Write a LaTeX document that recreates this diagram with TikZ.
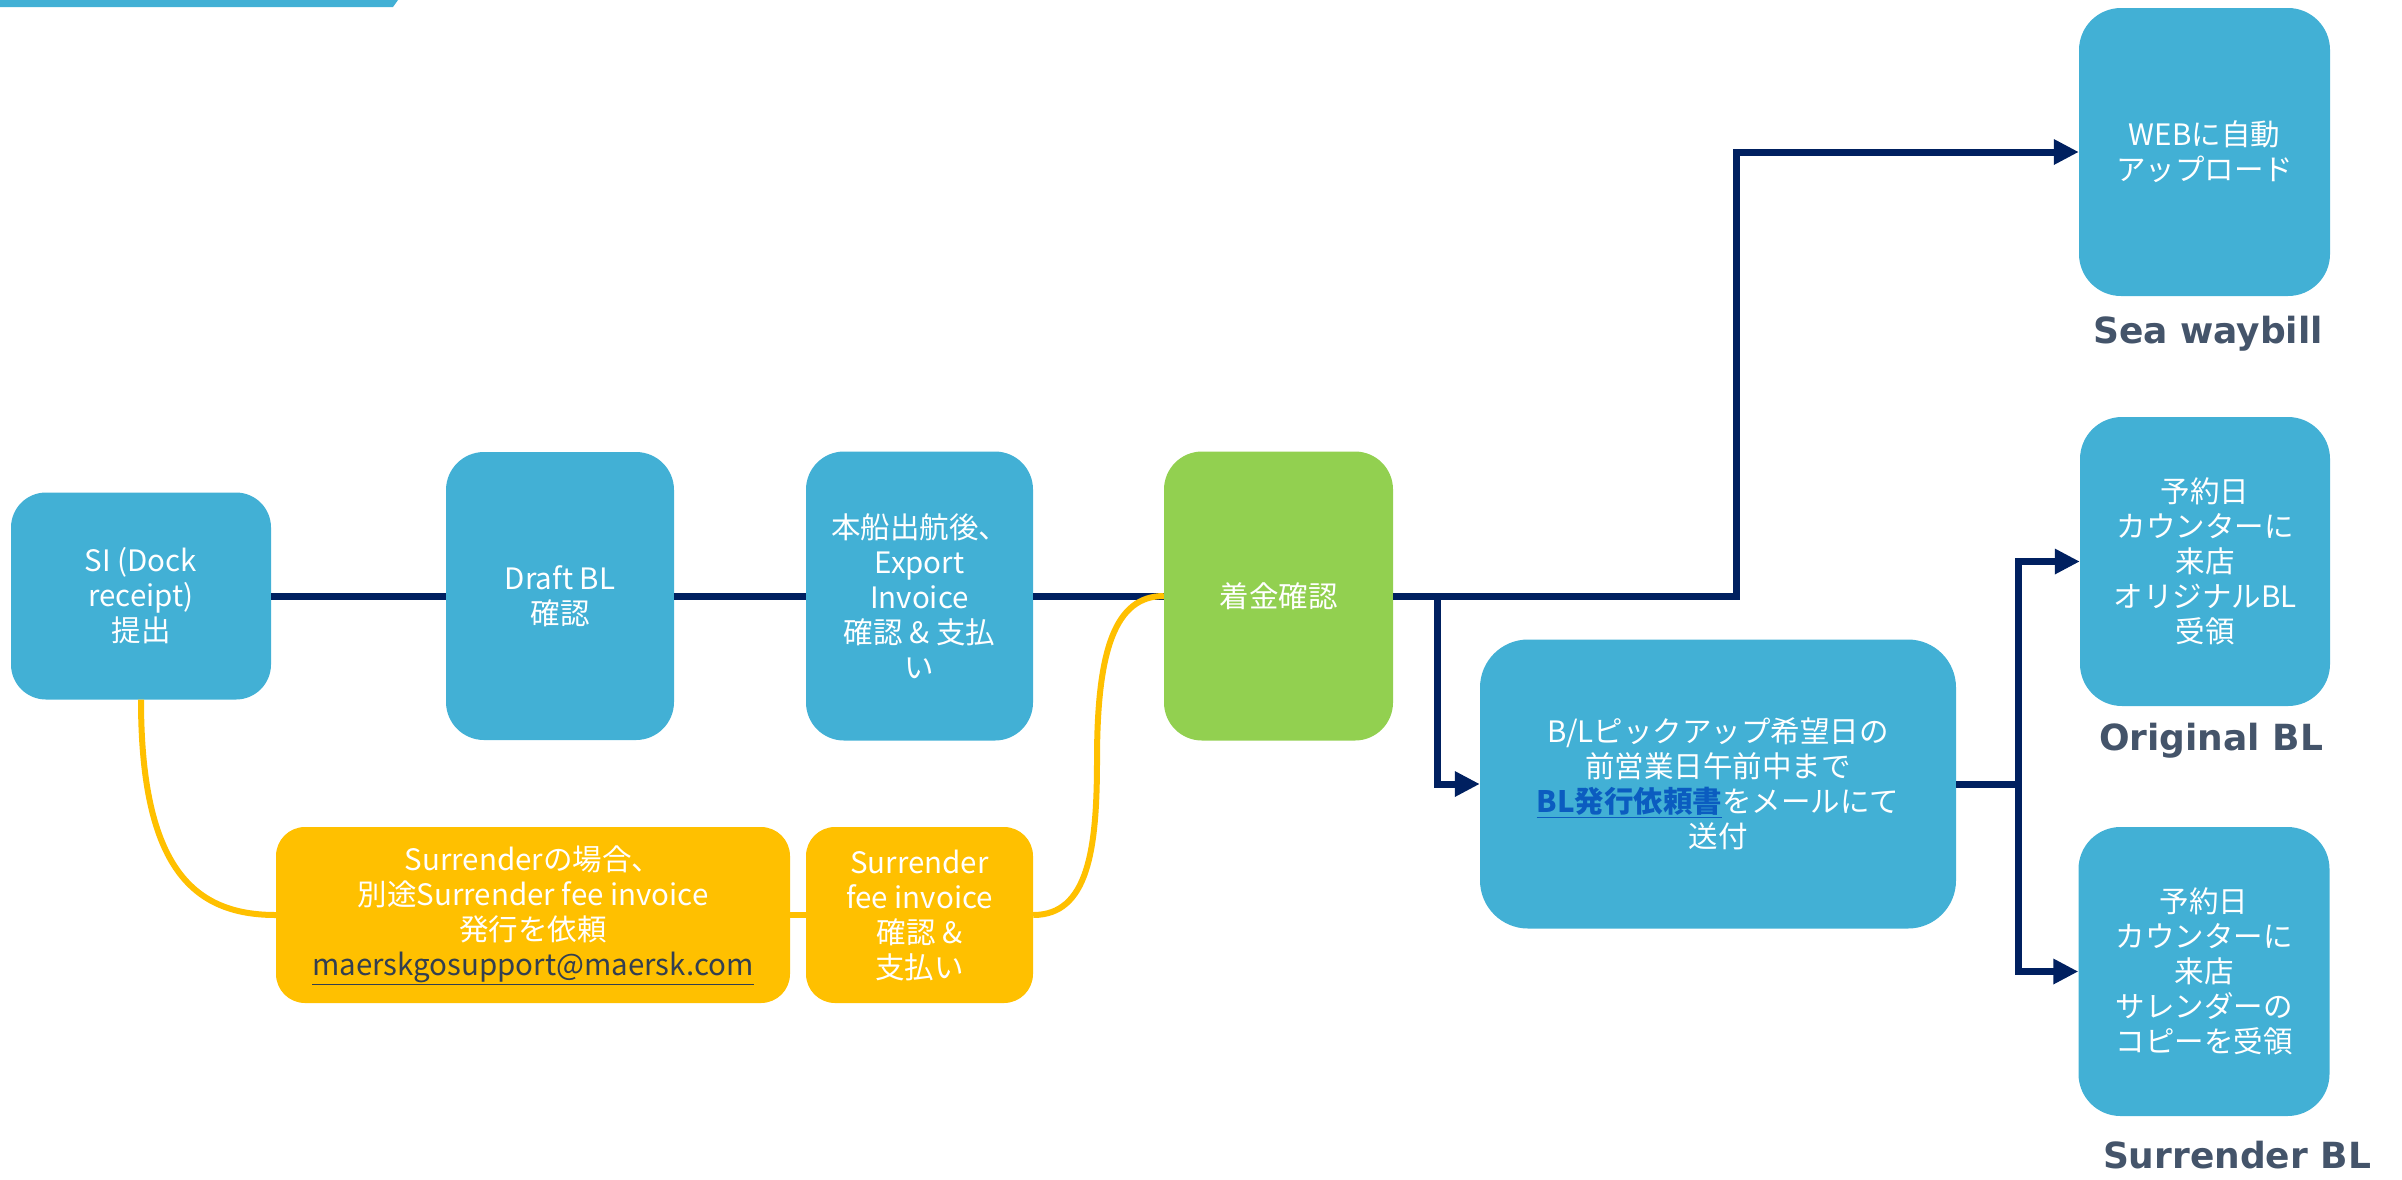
\documentclass[tikz,border=0pt]{standalone}
\usepackage{fontspec}
\setmainfont{Noto Sans CJK JP}
\newfontfamily\lblfont{DejaVu Sans}
\usetikzlibrary{arrows.meta}
\definecolor{navy}{HTML}{002060}
\definecolor{boxblue}{HTML}{42B0D5}
\definecolor{boxgreen}{HTML}{92D050}
\definecolor{boxorange}{HTML}{FFC000}
\definecolor{lblgray}{HTML}{44546A}
\definecolor{linkblue}{HTML}{0B5CC0}
\definecolor{mailgray}{HTML}{333F50}
\newcommand{\bxfont}{\fontsize{29.5}{35}\selectfont}
\tikzset{
  procbox/.style={fill=boxblue, text=white, align=center, inner sep=0pt, font=\bxfont},
  greenbox/.style={procbox, fill=boxgreen},
  orangebox/.style={procbox, fill=boxorange, rounded corners=29pt, minimum height=176pt},
  flow/.style={draw=navy, line width=7pt},
  flowarrow/.style={flow, -{Triangle[length=25pt,width=24pt]}},
  yflow/.style={draw=boxorange, line width=6pt},
  lbl/.style={text=lblgray, font=\lblfont\bfseries\fontsize{36}{42}\selectfont, inner sep=0pt, anchor=base}
}
\begin{document}
\begin{tikzpicture}[x=1pt,y=-1pt]
\useasboundingbox (0,0) rectangle (2402,1179);
% top bar
\fill[boxblue] (0,0) -- (398,0) -- (393,7) -- (0,7) -- cycle;

% nodes
\node[procbox, rounded corners=35pt, minimum width=260pt, minimum height=207pt] (si) at (141,596) {SI (Dock\\receipt)\\提出};
\node[procbox, rounded corners=38pt, minimum width=228pt, minimum height=288pt] (draft) at (560,596) {Draft BL\\確認};
\node[procbox, rounded corners=38pt, minimum width=227pt, minimum height=289pt] (exp) at (919.5,596) {本船出航後、\\Export\\Invoice\\確認 \& 支払\\い};
\node[greenbox, rounded corners=38pt, minimum width=229pt, minimum height=289pt] (green) at (1278.5,596) {着金確認};
\node[procbox, rounded corners=48pt, minimum width=476pt, minimum height=289pt] (bl) at (1718,784) {B/Lピックアップ希望日の\\前営業日午前中まで\\{\color{linkblue}\underline{\textbf{BL発行依頼書}}}をメールにて\\送付};
\node[procbox, rounded corners=42pt, minimum width=251pt, minimum height=288pt] (sea) at (2204.5,152) {WEBに自動\\アップロード};
\node[procbox, rounded corners=42pt, minimum width=250pt, minimum height=289pt] (orig) at (2205,561.5) {予約日\\カウンターに\\来店\\オリジナルBL\\受領};
\node[procbox, rounded corners=42pt, minimum width=251pt, minimum height=289pt] (sur) at (2204,971.5) {予約日\\カウンターに\\来店\\サレンダーの\\コピーを受領};
\node[orangebox, minimum width=514pt] (or1) at (533,915) {Surrenderの場合、\\別途Surrender fee invoice\\発行を依頼\\{\color{mailgray}\underline{maerskgosupport@maersk.com}}};
\node[orangebox, minimum width=227pt] (or2) at (919.5,915) {Surrender\\fee invoice\\確認 \&\\支払い};

% labels
\node[lbl] (sealbl) at (2208,343) {Sea waybill};
\node[lbl] (origlbl) at (2211,750) {Original BL};
\node[lbl] (surlbl) at (2237,1168) {Surrender BL};

% main flow
\draw[flow] (si.east) -- (draft.west);
\draw[flow] (draft.east) -- (exp.west);
\draw[flow] (exp.east) -- (green.west);
\coordinate (topturn) at (1736,596);
\coordinate (brk) at (1437,596);
\coordinate (blturn) at (2018,784);
\draw[flowarrow] (green.east) -- (topturn) |- (sea.west);
\draw[flowarrow] (brk) |- (bl.west);
\draw[flow] (bl.east) -- (blturn);
\draw[flowarrow] (blturn) |- (orig.west);
\draw[flowarrow] (blturn) |- (sur.west);

% surrender path
\draw[yflow] (si.south) .. controls (141,870) and (195,915) .. (or1.west);
\draw[yflow] (or1.east) -- (or2.west);
\coordinate (ymid) at (1097,760);
\draw[yflow] (or2.east) .. controls (1088,915) and (1097,850) .. (ymid) .. controls (1097,650) and (1115,596) .. (green.west);
\end{tikzpicture}
\end{document}
